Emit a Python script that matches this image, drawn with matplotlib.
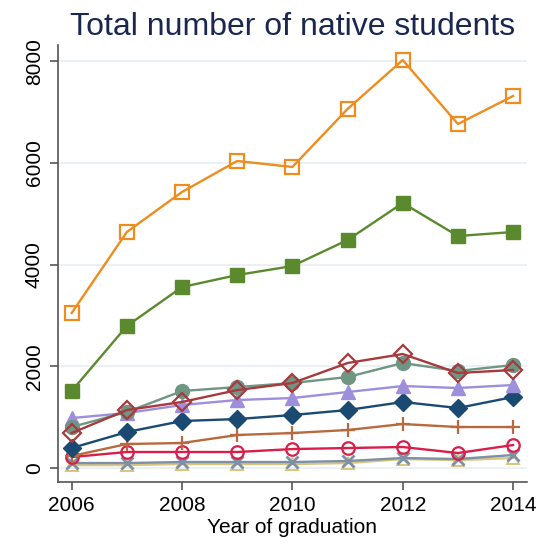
import numpy as np
import matplotlib.pyplot as plt

plt.rcParams['font.family'] = ['Liberation Sans', 'DejaVu Sans']

years = [2006, 2007, 2008, 2009, 2010, 2011, 2012, 2013, 2014]

# values
orange_sq = [3047, 4640, 5426, 6036, 5918, 7058, 8021, 6763, 7314]
green_sq = [1514, 2792, 3558, 3794, 3971, 4482, 5210, 4561, 4640]
gray_circ = [806, 1101, 1514, 1592, 1671, 1789, 2064, 1907, 2025]
red_diam = [688, 1140, 1298, 1533, 1671, 2064, 2241, 1868, 1927]
lav_tri = [983, 1081, 1239, 1337, 1376, 1494, 1612, 1573, 1632]
navy_diam = [393, 708, 924, 963, 1042, 1140, 1298, 1180, 1396]
brown_plus = [236, 472, 492, 649, 688, 747, 865, 806, 806]
crimson_circ = [216, 315, 315, 315, 373, 393, 413, 295, 452]
slate_x = [98, 98, 118, 118, 118, 138, 197, 177, 256]
khaki_tri = [59, 59, 79, 79, 79, 98, 177, 157, 197]

yticks = [0, 2000, 4000, 6000, 8000]
xticks = [2006, 2008, 2010, 2012, 2014]

fig = plt.figure(figsize=(5.46, 5.5), dpi=100, facecolor='white')
ax = fig.add_axes([0.106, 0.1236, 0.859, 0.7946])

for y in yticks:
    ax.axhline(y, color='#e6edf2', lw=1.2, zorder=0)

lw = 1.7
ax.plot(years, khaki_tri, color='#d8c67e', lw=lw, marker='^', ms=8, mfc='none', mew=1.4)
ax.plot(years, slate_x, color='#7d90a8', lw=lw, marker='x', ms=8, mew=2)
ax.plot(years, crimson_circ, color='#d81e4a', lw=lw, marker='o', ms=9, mfc='none', mew=1.6)
ax.plot(years, brown_plus, color='#b86a3e', lw=lw, marker='+', ms=10, mew=1.6)
ax.plot(years, navy_diam, color='#1a4a72', lw=lw, marker='D', ms=9)
ax.plot(years, lav_tri, color='#9d8fdc', lw=lw, marker='^', ms=10)
ax.plot(years, gray_circ, color='#6f9583', lw=lw, marker='o', ms=10)
ax.plot(years, red_diam, color='#a63a3c', lw=lw, marker='D', ms=9, mfc='none', mew=1.6)
ax.plot(years, green_sq, color='#5b8a2e', lw=lw, marker='s', ms=10)
ax.plot(years, orange_sq, color='#ef8c1e', lw=lw, marker='s', ms=10, mfc='none', mew=1.6)

ax.set_xlim(2005.75, 2014.25)
ax.set_ylim(-275, 8316)
ax.set_xticks(xticks)
ax.set_yticks(yticks)
ax.set_yticklabels([str(v) for v in yticks], rotation=90, va='center')

for s in ['top', 'right']:
    ax.spines[s].set_visible(False)
for s in ['left', 'bottom']:
    ax.spines[s].set_color('#555555')
    ax.spines[s].set_linewidth(1.2)
ax.tick_params(axis='both', length=6, width=1.2, color='#555555', labelsize=15, pad=4)

ax.set_xlabel('Year of graduation', fontsize=15, labelpad=2)
ax.set_title('Total number of native students', fontsize=23, color='#1a2850', pad=7)

fig.savefig('out.png', dpi=100, facecolor='white')
